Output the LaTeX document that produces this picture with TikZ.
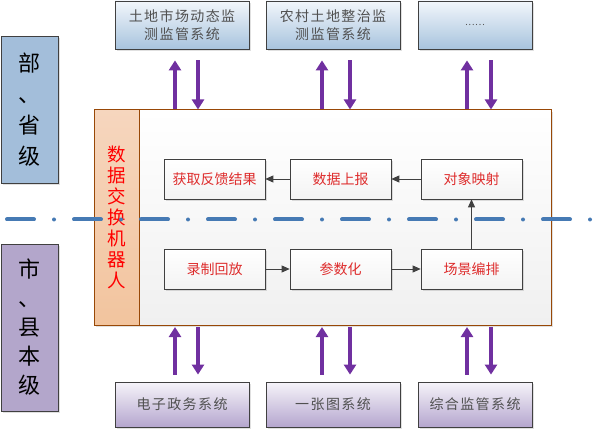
\documentclass[tikz,border=0pt]{standalone}
\usepackage{fontspec}
\setmainfont{Noto Sans CJK SC}
\newfontfamily\sysfont{Noto Sans CJK SC}[LetterSpace=10]
\usetikzlibrary{arrows.meta,shadows}
\definecolor{boxline}{RGB}{64,64,64}
\definecolor{systxt}{RGB}{80,80,80}
\definecolor{blueL}{RGB}{163,190,218}
\definecolor{purpL}{RGB}{179,166,203}
\definecolor{blueTop}{RGB}{242,246,251}
\definecolor{blueBot}{RGB}{168,196,222}
\definecolor{purTop}{RGB}{246,244,250}
\definecolor{purBot}{RGB}{181,166,206}
\definecolor{stripTop}{RGB}{246,214,190}
\definecolor{stripBot}{RGB}{242,196,158}
\definecolor{mainline}{RGB}{152,72,7}
\definecolor{mainBot}{RGB}{240,240,240}
\definecolor{inBot}{RGB}{243,243,243}
\definecolor{redtxt}{RGB}{222,44,44}
\definecolor{arrowpurple}{RGB}{112,48,160}
\definecolor{divblue}{RGB}{70,122,180}
\tikzset{
  shadowed/.style={drop shadow={shadow xshift=2pt,shadow yshift=-2pt,fill=black,opacity=0.12}},
  sysbox/.style={draw=boxline, line width=0.8pt, minimum width=134pt, inner sep=0pt,
    align=center, text=systxt, font=\sysfont\fontsize{14}{18}\selectfont, shadowed},
  topsys/.style={sysbox, minimum height=48pt, top color=blueTop, bottom color=blueBot},
  botsys/.style={sysbox, minimum height=45pt, top color=purTop, bottom color=purBot},
  lvl/.style={draw=boxline, line width=0.8pt, minimum width=57pt, inner sep=0pt,
    align=center, text=black, shadowed},
  inbox/.style={draw=boxline, line width=0.7pt, minimum width=101pt, minimum height=40pt,
    inner sep=0pt, top color=white, bottom color=inBot, text=redtxt,
    font=\fontsize{14}{16}\selectfont, shadowed},
  conn/.style={draw=boxline, line width=0.8pt, -{Triangle[width=7pt,length=8pt]}},
  parrow/.style={draw=arrowpurple, line width=4pt,
    -{Triangle[width=12pt,length=10pt]}},
  divline/.style={draw=divblue, line width=4pt, line cap=round,
    dash pattern=on 27pt off 20pt on 0pt off 20pt}
}
\begin{document}
\begin{tikzpicture}[x=1pt,y=-1pt]
\useasboundingbox (0,0) rectangle (599,430);
% level boxes
\node[lvl, fill=blueL, minimum height=147pt, font=\fontsize{22}{31}\selectfont]
  (L1) at (29.5,109.5) {部\\、\\省\\级};
\node[lvl, fill=purpL, minimum height=167pt, font=\fontsize{22}{29}\selectfont]
  (L2) at (29.5,327.5) {市\\、\\县\\本\\级};
% top systems
\node[topsys] (t1) at (182,25) {土地市场动态监\\测监管系统};
\node[topsys] (t2) at (333,25) {农村土地整治监\\测监管系统};
\node[topsys, minimum width=114pt] (t3) at (475,25) {\fontsize{9}{9}\selectfont ......};
% bottom systems
\node[botsys] (b1) at (182,404.5) {电子政务系统};
\node[botsys] (b2) at (333,404.5) {一张图系统};
\node[botsys, minimum width=114pt] (b3) at (475,404.5) {综合监管系统};
% main box
\node[draw=mainline, line width=1pt, top color=white, bottom color=mainBot,
  minimum width=457pt, minimum height=215pt, inner sep=0pt, shadowed]
  (main) at (322.5,217.5) {};
\node[draw=mainline, line width=1pt, top color=stripTop, bottom color=stripBot,
  minimum width=45pt, minimum height=215pt, inner sep=0pt, align=center,
  text=red, font=\fontsize{18.5}{21}\selectfont]
  (strip) at (116.5,217.5) {数\\据\\交\\换\\机\\器\\人};
% inner boxes
\node[inbox] (a1) at (214.5,179) {获取反馈结果};
\node[inbox] (a2) at (340.5,179) {数据上报};
\node[inbox] (a3) at (471.5,179) {对象映射};
\node[inbox] (c1) at (214.5,269) {录制回放};
\node[inbox] (c2) at (340.5,269) {参数化};
\node[inbox] (c3) at (471.5,269) {场景编排};
\draw[conn] (a3) -- (a2);
\draw[conn] (a2) -- (a1);
\draw[conn] (c1) -- (c2);
\draw[conn] (c2) -- (c3);
\draw[conn] (c3) -- (a3);
% purple arrows
\coordinate (xa1) at (175,0); \coordinate (xb1) at (198,0);
\coordinate (xa2) at (322,0); \coordinate (xb2) at (350,0);
\coordinate (xa3) at (467,0); \coordinate (xb3) at (491,0);
\foreach \i in {1,2,3}{
  \draw[parrow, shorten >=11pt] (main.north -| xa\i) -- (t\i.south -| xa\i);
  \draw[parrow, shorten <=11pt] (t\i.south -| xb\i) -- (main.north -| xb\i);
  \draw[parrow, shorten <=7pt, shorten >=1.5pt] (b\i.north -| xa\i) -- (main.south -| xa\i);
  \draw[parrow, shorten <=1.5pt, shorten >=7pt] (main.south -| xb\i) -- (b\i.north -| xb\i);
}
% dividing line
\coordinate (dl) at (7,219.5);
\coordinate (dr) at (599,219.5);
\draw[divline] (dl) -- (dr);
\end{tikzpicture}
\end{document}
